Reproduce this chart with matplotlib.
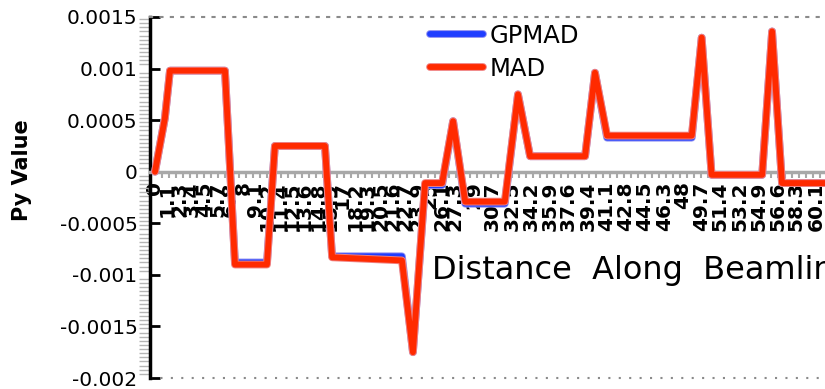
import matplotlib
matplotlib.use("Agg")
import matplotlib.pyplot as plt
import matplotlib.patheffects as pe
from matplotlib.ticker import MultipleLocator

# ---- data ----
s_pos = [0.0, 0.9, 1.36, 6.36, 7.27, 10.18, 10.9, 15.45, 16.1, 22.45, 23.45,
         24.55, 26.1, 27.1, 28.2, 31.8, 33.0, 34.1, 39.1, 40.0, 41.1, 48.8,
         49.7, 50.6, 55.2, 56.1, 57.0, 67.7]
py_mad = [0.0, 0.00052, 0.00098, 0.00098, -0.00090, -0.00090, 0.00025, 0.00025,
          -0.00083, -0.00086, -0.00175, -0.00011, -0.00011, 0.00049, -0.00029,
          -0.00029, 0.00075, 0.00015, 0.00015, 0.00096, 0.00035, 0.00035,
          0.00130, -0.00003, -0.00003, 0.00136, -0.00011, -0.00011]
py_gpmad = [0.0, 0.00052, 0.00098, 0.00098, -0.00088, -0.00088, 0.00025, 0.00025,
            -0.00082, -0.00082, -0.00175, -0.00013, -0.00013, 0.00049, -0.00031,
            -0.00031, 0.00075, 0.00015, 0.00015, 0.00096, 0.00033, 0.00033,
            0.00130, -0.00003, -0.00003, 0.00136, -0.00011, -0.00011]
series_names = ["GPMAD", "MAD"]

tick_pos = [0, 1.1, 2.3, 3.4, 4.5, 5.7, 6.8, 8.0, 9.1, 10.2, 11.4, 12.5, 13.6,
            14.8, 15.9, 17.0, 18.2, 19.3, 20.5, 21.6, 22.7, 23.9, 25.0, 26.1,
            27.3, 29.0, 30.7, 32.5, 34.2, 35.9, 37.6, 39.4, 41.1, 42.8, 44.5,
            46.3, 48.0, 49.7, 51.4, 53.2, 54.9, 56.6, 58.3, 60.1, 61.8, 63.5, 65.3]
tick_labels = [f"{v:g}" for v in tick_pos]

y_ticks = [0.0015, 0.001, 0.0005, 0, -0.0005, -0.001, -0.0015, -0.002]
y_tick_labels = ["0.0015", "0.001", "0.0005", "0", "-0.0005", "-0.001", "-0.0015", "-0.002"]

# ---- figure ----
W, H = 825, 389
fig = plt.figure(figsize=(W / 100, H / 100), dpi=100)
ax = fig.add_axes([150 / W, 11 / H, 750 / W, 361 / H])
ax.set_ylim(-0.002, 0.0015)
ax.set_xlim(-0.4545, 67.73)

ax.plot(s_pos, py_gpmad, color="#1f3dff", lw=4.2, solid_joinstyle="round",
        solid_capstyle="round", label=series_names[0], zorder=3,
        path_effects=[pe.Stroke(linewidth=5.6, foreground="#8c8cf0"), pe.Normal()])
ax.plot(s_pos, py_mad, color="#ff2a00", lw=4.2, solid_joinstyle="round",
        solid_capstyle="round", label=series_names[1], zorder=4,
        path_effects=[pe.Stroke(linewidth=5.6, foreground="#f08080"), pe.Normal()])

# spines
ax.spines["right"].set_visible(False)
ax.spines["left"].set_color("black")
ax.spines["left"].set_linewidth(2.5)
ax.spines["top"].set_color("#8a8a8a")
ax.spines["top"].set_linewidth(1.5)
ax.spines["top"].set_linestyle((0, (1, 4)))
ax.spines["bottom"].set_position(("data", 0))
ax.spines["bottom"].set_color("#a8a8a8")
ax.spines["bottom"].set_linewidth(2.5)
ax.axhline(-0.002, color="#8a8a8a", lw=1.5, ls=(0, (1, 4)), clip_on=False)

# y ticks
ax.set_yticks(y_ticks, y_tick_labels)
ax.tick_params(axis="y", which="major", direction="in", length=7, width=2,
               color="black", labelsize=14.5, pad=9)
ax.yaxis.set_minor_locator(MultipleLocator(0.00004))
ax.tick_params(axis="y", which="minor", direction="out", length=8, width=1,
               color="#b5b5b5")

# x ticks
ax.set_xticks(tick_pos, tick_labels)
ax.tick_params(axis="x", which="major", length=0, labelsize=14.5, pad=7)
plt.setp(ax.get_xticklabels(), rotation=90, ha="center", va="top",
         fontweight="heavy", color="black")
ax.xaxis.set_minor_locator(MultipleLocator(0.636))
ax.tick_params(axis="x", which="minor", direction="out", length=4, width=1.5,
               color="#a8a8a8")

# legend
ax.legend(loc="upper left", bbox_to_anchor=(430 / W, 1 - 24 / H),
          bbox_transform=fig.transFigure, frameon=False, fontsize=17.5,
          handlelength=2.2, handletextpad=0.25, labelspacing=0.35,
          borderpad=0, borderaxespad=0)

# axis titles
fig.text(432 / W, 1 - 255 / H, "Distance  Along  Beamline", fontsize=23,
         ha="left", va="top", color="black")
fig.text(22 / W, 1 - 170 / H, "Py Value", rotation=90, fontsize=15,
         fontweight="heavy", ha="center", va="center", color="black")

fig.savefig("out.png", dpi=100)
